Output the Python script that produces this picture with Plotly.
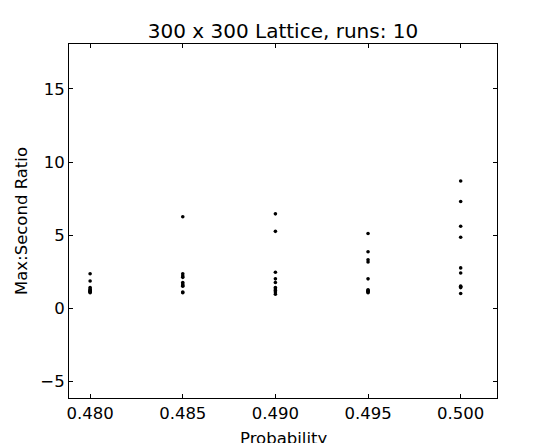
import plotly.graph_objects as go

probabilities = [0.480, 0.485, 0.490, 0.495, 0.500]
ratios_0480 = [2.35, 1.85, 1.4, 1.3, 1.25, 1.2, 1.15, 1.12, 1.1, 1.05]
ratios_0485 = [6.25, 2.35, 2.2, 2.1, 1.75, 1.65, 1.55, 1.5, 1.1, 1.05]
ratios_0490 = [6.45, 5.25, 2.45, 2.0, 1.75, 1.4, 1.3, 1.2, 1.1, 0.95]
ratios_0495 = [5.1, 3.85, 3.3, 3.15, 2.0, 1.25, 1.2, 1.15, 1.1, 1.05]
ratios_0500 = [8.7, 7.3, 5.6, 4.85, 2.75, 2.4, 1.5, 1.45, 1.4, 1.0]
all_ratios = [ratios_0480, ratios_0485, ratios_0490, ratios_0495, ratios_0500]

x_ticks = [0.480, 0.485, 0.490, 0.495, 0.500]
x_tick_labels = ["0.480", "0.485", "0.490", "0.495", "0.500"]
y_ticks = [-5, 0, 5, 10, 15]
y_tick_labels = ["\u22125", "0", "5", "10", "15"]

xs, ys = [], []
for p, vals in zip(probabilities, all_ratios):
    xs += [p] * len(vals)
    ys += vals

font = "DejaVu Sans"
fig = go.Figure(go.Scatter(
    x=xs, y=ys, mode="markers",
    marker=dict(color="black", size=3.6, line=dict(width=0)),
    showlegend=False,
))

axis_common = dict(
    showline=True, linecolor="black", linewidth=1, mirror="allticks",
    ticks="inside", ticklen=4, tickwidth=1, tickcolor="black",
    showgrid=False, zeroline=False, automargin=False,
    tickfont=dict(family=font, size=16.5, color="black"),
)

fig.update_layout(
    width=552, height=443,
    margin=dict(l=69, r=55, t=44, b=45),
    paper_bgcolor="white", plot_bgcolor="white",
    title=dict(text="300 x 300 Lattice, runs: 10", x=283/552, xanchor="center",
               xref="container", yref="container", y=1 - 31/443, yanchor="middle",
               font=dict(family=font, size=20, color="black")),
    xaxis=dict(range=[0.47886, 0.50196], tickvals=x_ticks, ticktext=x_tick_labels,
               **axis_common),
    yaxis=dict(range=[-6.16, 18.08], tickvals=y_ticks, ticktext=y_tick_labels,
               title=dict(text="Max:Second Ratio", standoff=8,
                          font=dict(family=font, size=16.5, color="black")),
               **axis_common),
    annotations=[dict(text="Probability", xref="paper", yref="paper",
                      x=0.5, y=(398 - 438) / 354, xanchor="center", yanchor="middle",
                      showarrow=False,
                      font=dict(family=font, size=16.5, color="black"))],
)

fig.write_html("out.html", config={"displayModeBar": False},
               post_script="document.body.style.margin='0';document.body.style.overflow='hidden';")
